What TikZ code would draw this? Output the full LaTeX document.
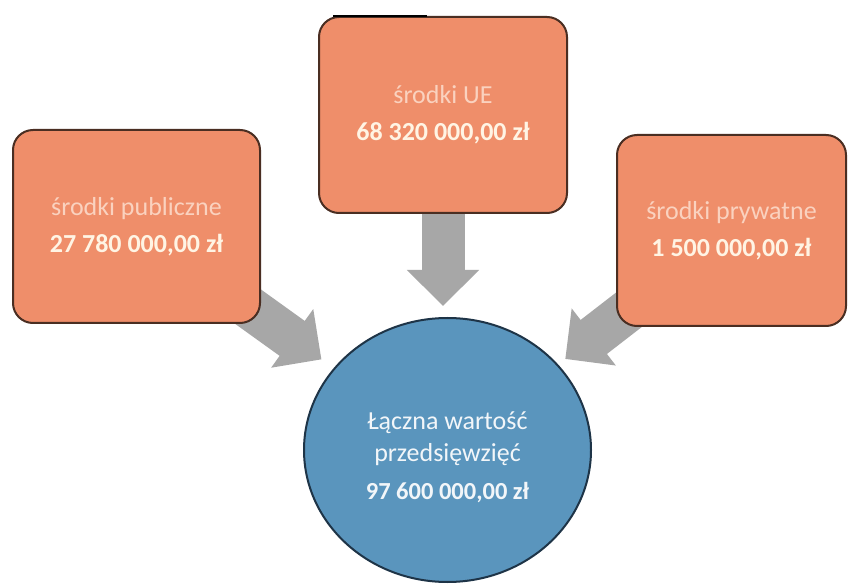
\documentclass[tikz,border=0pt]{standalone}
\usepackage{fontspec}
\setmainfont{Carlito}
\usetikzlibrary{arrows.meta,shapes.geometric,backgrounds,calc}
\definecolor{boxfill}{HTML}{EF8E6A}
\definecolor{boxline}{HTML}{4A2E22}
\definecolor{circfill}{HTML}{5A95BD}
\definecolor{circline}{HTML}{1E3447}
\definecolor{arrowgray}{HTML}{A7A7A7}
\definecolor{labeltext}{HTML}{FAD2BF}
\definecolor{valuetext}{HTML}{FFF4E4}
\definecolor{circtext}{HTML}{F2F6F9}
\tikzset{
  srcbox/.style={draw=boxline, line width=2pt, fill=boxfill, rounded corners=20pt,
    inner sep=0pt, align=center, font=\fontsize{26}{37}\selectfont},
  total/.style={ellipse, draw=circline, line width=2pt, fill=circfill,
    minimum width=287pt, minimum height=264pt, inner sep=0pt},
  totaltext/.style={inner sep=0pt, align=center, text=circtext,
    font=\fontsize{26}{32}\selectfont},
  bigarrow/.style={draw=arrowgray, line width=43pt,
    -{Triangle[width=70pt,length=36pt]}}
}
\begin{document}
\begin{tikzpicture}[x=1pt,y=-1pt]
\useasboundingbox (0,0) rectangle (849,585);
\node[srcbox, minimum width=247pt, minimum height=193pt] (pub) at (136.5,226.5)
  {\textcolor{labeltext}{środki publiczne}\\\textcolor{valuetext}{\bfseries 27 780 000,00 zł}};
\node[srcbox, minimum width=248pt, minimum height=196pt] (ue) at (443,115)
  {\textcolor{labeltext}{środki UE}\\\textcolor{valuetext}{\bfseries 68 320 000,00 zł}};
\node[srcbox, minimum width=229pt, minimum height=191pt] (pryw) at (731.5,230.5)
  {\textcolor{labeltext}{środki prywatne}\\\textcolor{valuetext}{\bfseries 1 500 000,00 zł}};
\node[total] (sum) at (447.5,450) {};
\node[totaltext] (sumtxt) at ([yshift=-7pt]sum.center)
  {Łączna wartość\\przedsięwzięć\\[6pt]{\fontsize{24.5}{32}\selectfont\bfseries 97 600 000,00 zł}};
\coordinate (mtip) at (ue.center |- sum.north);
\begin{scope}[on background layer]
  \fill[white] (0,0) rectangle (849,585);
  \draw[bigarrow, shorten >=11pt] (ue.center) -- (mtip);
  \draw[bigarrow, shorten >=15pt] (pub.center) -- (sum);
  \draw[bigarrow, shorten >=9pt] (pryw.center) -- (sum);
\end{scope}
\coordinate (bl1) at (333,16.5);
\coordinate (bl2) at (427,16.5);
\draw[black, line width=2pt] (bl1) -- (bl2);
\end{tikzpicture}
\end{document}
